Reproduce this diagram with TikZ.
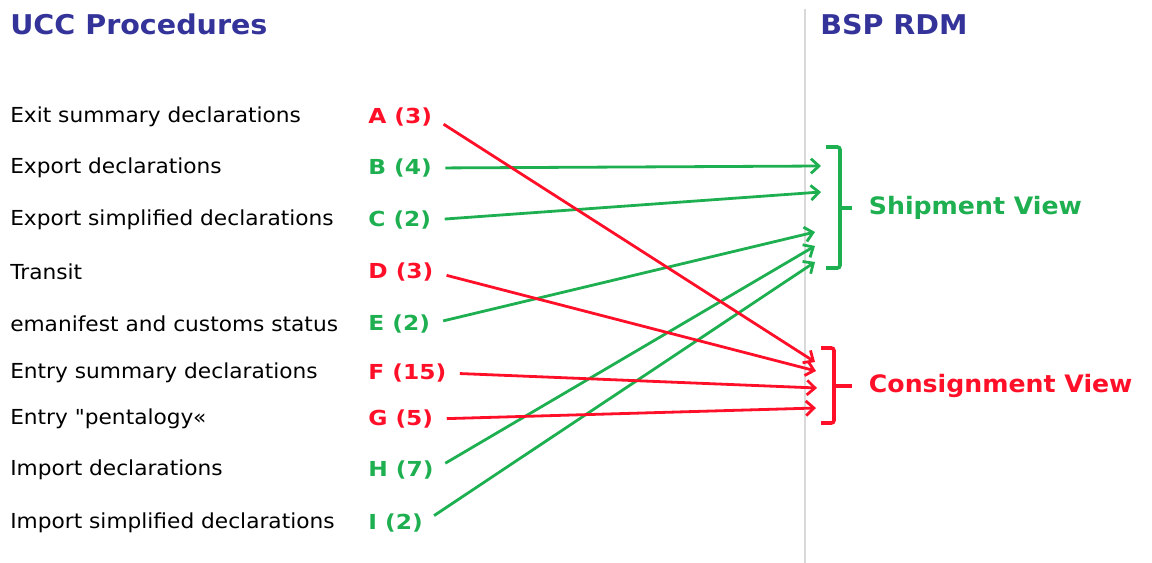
\documentclass[tikz,border=0pt]{standalone}
\usepackage{fontspec}
\setmainfont{DejaVu Sans}[FakeStretch=1.05,Ligatures=TeXOff]
\newfontfamily\codefont{DejaVu Sans}[FakeStretch=1.13]
\usepackage{xcolor}
\usetikzlibrary{arrows.meta,positioning,calc}
\definecolor{navy}{HTML}{333399}
\definecolor{viewgreen}{HTML}{1DAF50}
\definecolor{viewred}{HTML}{FF1028}

\begin{document}
\begin{tikzpicture}[x=0.75pt,y=-0.75pt,
    proc/.style={anchor=west,inner sep=0pt,font=\fontsize{15.5}{18}\selectfont},
    code/.style={anchor=west,inner sep=0pt,font=\codefont\bfseries\fontsize{15.5}{18}\selectfont},
    head/.style={anchor=west,inner sep=0pt,text=navy,font=\bfseries\fontsize{20.4}{24}\selectfont},
    view/.style={anchor=west,inner sep=0pt,font=\bfseries\fontsize{18}{22}\selectfont},
    link/.style={line width=2.1pt,shorten <=10pt,-{Straight Barb[length=6pt,width=11pt]}},
    brack/.style={line width=2.7pt,rounded corners=2pt}]
    \useasboundingbox (0,0) rectangle (1152,563);

    % Headers and divider
    \node[head] (ucc) at (10,24) {UCC Procedures};
    \node[head] (bsp) at (820,25) {BSP RDM};
    \draw[gray!30,line width=1.2pt] (805,9) -- (805,563);

    % Procedures and their codes
    \foreach \n/\y/\t/\c/\k in {
        A/117/Exit summary declarations/A (3)/viewred,
        B/168/Export declarations/B (4)/viewgreen,
        C/220/Export simplified declarations/C (2)/viewgreen,
        D/272/Transit/D (3)/viewred,
        E/324/emanifest and customs status/E (2)/viewgreen,
        F/373/Entry summary declarations/F (15)/viewred,
        G/419/Entry "pentalogy«/G (5)/viewred,
        H/470/Import declarations/H (7)/viewgreen,
        I/523/Import simplified declarations/I (2)/viewgreen} {
        \node[proc] (p\n) at (10,\y) {\t};
        \node[code,text=\k] (l\n) at (368,\y) {\c};
    }

    % Shipment View bracket
    \coordinate (s1) at (821,166);
    \coordinate (s2) at (821,192);
    \coordinate (s3) at (815,232);
    \coordinate (s4) at (815,246);
    \coordinate (s5) at (815,262);
    \draw[brack,viewgreen] (826,147) -- (840,147) -- (840,268) -- (826,268);
    \draw[brack,viewgreen] (840,208) -- (852,208) coordinate (sTick);
    \node[view,text=viewgreen,right=12.5pt of sTick] (ship) {Shipment View};

    % Consignment View bracket
    \coordinate (c1) at (815,362);
    \coordinate (c2) at (816,371);
    \coordinate (c3) at (817,388);
    \coordinate (c4) at (816,408);
    \draw[brack,viewred] (821,348) -- (834,348) -- (834,423) -- (821,423);
    \draw[brack,viewred] (834,386) -- (852,386) coordinate (cTick);
    \node[view,text=viewred,right=12.5pt of cTick] (cons) {Consignment View};

    % Links
    \draw[link,viewgreen] (lB.east) -- (s1);
    \draw[link,viewgreen] (lC.east) -- (s2);
    \draw[link,viewgreen] (lE.east) -- (s3);
    \draw[link,viewgreen] (lH.east) -- (s4);
    \draw[link,viewgreen] (lI.east) -- (s5);
    \draw[link,viewred] (lA.east) -- (c1);
    \draw[link,viewred] (lD.east) -- (c2);
    \draw[link,viewred] (lF.east) -- (c3);
    \draw[link,viewred] (lG.east) -- (c4);
\end{tikzpicture}
\end{document}
